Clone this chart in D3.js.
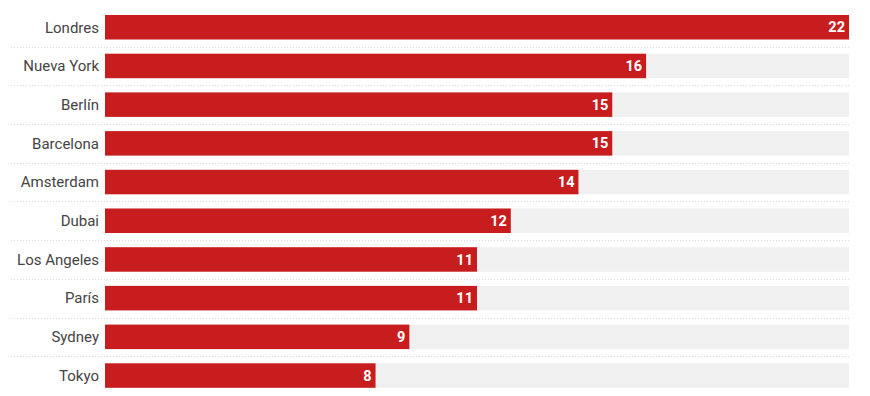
<!DOCTYPE html>
<html><head><meta charset="utf-8">
<script src="https://cdn.jsdelivr.net/npm/d3@7"></script>
<style>body{margin:0;background:#fff}svg{display:block}</style>
</head><body>
<svg id="c" width="870" height="396"></svg>
<script>
const cities = ["Londres","Nueva York","Berlín","Barcelona","Amsterdam","Dubai","Los Angeles","París","Sydney","Tokyo"];
const values = [22,16,15,15,14,12,11,11,9,8];
const maxValue = 22;

const svg = d3.select("#c");
const mLeft = 105, mRight = 849, mTop = 7.9, mBottom = 394.9;
const x = d3.scaleLinear().domain([0, maxValue]).range([mLeft, mRight]);
const y = d3.scaleBand().domain(cities).range([mTop, mBottom]).paddingInner(0.367).paddingOuter(0.1835);
const step = y.step();

// separators
svg.selectAll("line.sep").data(cities.slice(0, -1)).enter().append("line")
  .attr("x1", 11).attr("x2", mRight)
  .attr("y1", d => Math.round(y(d) + y.bandwidth() + (step - y.bandwidth())/2) + 0.5)
  .attr("y2", d => Math.round(y(d) + y.bandwidth() + (step - y.bandwidth())/2) + 0.5)
  .attr("stroke", "#d6d6d6").attr("stroke-width", 1).attr("stroke-dasharray", "1,2");

// background bars
svg.selectAll("rect.bg").data(cities).enter().append("rect")
  .attr("x", x(0)).attr("width", x(maxValue) - x(0))
  .attr("y", d => y(d)).attr("height", y.bandwidth())
  .attr("fill", "#f0f0f0");

// value bars
svg.selectAll("rect.v").data(cities).enter().append("rect")
  .attr("x", x(0)).attr("width", (d,i) => x(values[i]) - x(0))
  .attr("y", d => y(d)).attr("height", y.bandwidth())
  .attr("fill", "#c81d1e");

// category labels
svg.selectAll("text.cat").data(cities).enter().append("text")
  .attr("x", 99).attr("y", d => y(d) + y.bandwidth()/2)
  .attr("dy", "0.35em").attr("text-anchor", "end")
  .attr("font-family", "Roboto, sans-serif").attr("font-size", 15)
  .attr("fill", "#444").text(d => d);

// value labels
svg.selectAll("text.val").data(cities).enter().append("text")
  .attr("x", (d,i) => x(values[i]) - 4).attr("y", d => y(d) + y.bandwidth()/2)
  .attr("dy", "0.35em").attr("text-anchor", "end")
  .attr("font-family", "Roboto, sans-serif").attr("font-size", 14.5).attr("font-weight", "bold")
  .attr("fill", "#fff").text((d,i) => values[i]);
</script>
</body></html>
